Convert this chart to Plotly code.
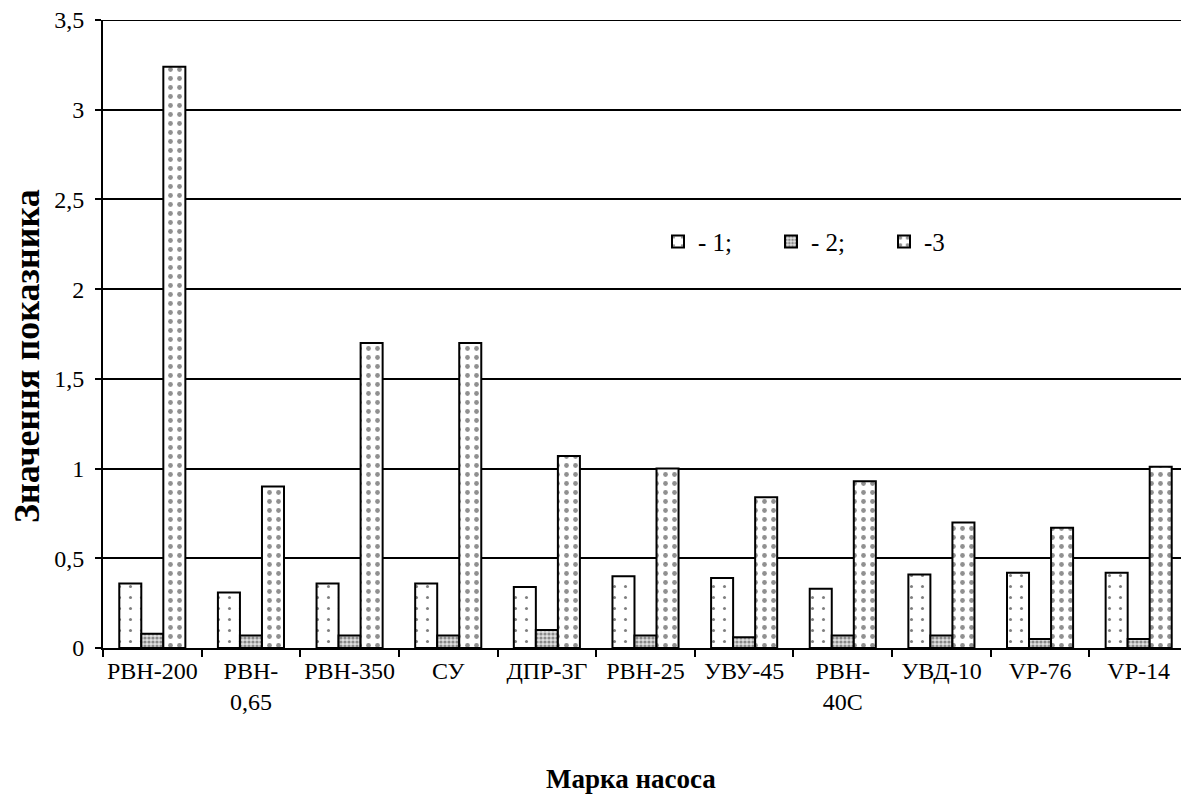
import plotly.graph_objects as go

categories = ["РВН-200", "РВН-<br>0,65", "РВН-350", "СУ", "ДПР-3Г", "РВН-25",
              "УВУ-45", "РВН-<br>40С", "УВД-10", "VP-76", "VP-14"]
series1 = [0.36, 0.31, 0.36, 0.36, 0.34, 0.40, 0.39, 0.33, 0.41, 0.42, 0.42]
series2 = [0.08, 0.07, 0.07, 0.07, 0.10, 0.07, 0.06, 0.07, 0.07, 0.05, 0.05]
series3 = [3.24, 0.90, 1.70, 1.70, 1.07, 1.00, 0.84, 0.93, 0.70, 0.67, 1.01]
names = ["- 1;", "- 2;", "-3"]
y_ticks = [0, 0.5, 1, 1.5, 2, 2.5, 3, 3.5]

FONT = "Liberation Serif"

fig = go.Figure()
fig.add_trace(go.Bar(
    x=categories, y=series1, name=names[0],
    marker=dict(color="white", line=dict(color="black", width=2),
                pattern=dict(shape=".", size=11, solidity=0.06, fgcolor="black", bgcolor="white")),
))
fig.add_trace(go.Bar(
    x=categories, y=series2, name=names[1],
    marker=dict(color="white", line=dict(color="black", width=2),
                pattern=dict(shape=".", size=4, solidity=0.5, fgcolor="#333333", bgcolor="#e0e0e0")),
))
fig.add_trace(go.Bar(
    x=categories, y=series3, name=names[2],
    marker=dict(color="white", line=dict(color="black", width=2),
                pattern=dict(shape=".", size=9, solidity=0.22, fgcolor="#222222", bgcolor="white")),
))

fig.update_layout(
    width=1189, height=796,
    paper_bgcolor="white", plot_bgcolor="white",
    margin=dict(l=95, r=9, t=12, b=156, autoexpand=False),
    barmode="group", bargap=0.33, bargroupgap=0,
    separators=", ",
    font=dict(family=FONT, size=24, color="black"),
    legend=dict(orientation="h", x=0.5115, y=0.647, xanchor="left", yanchor="middle",
                entrywidth=68, entrywidthmode="pixels",
                font=dict(family=FONT, size=25, color="black"),
                bgcolor="rgba(0,0,0,0)"),
    showlegend=True,
)
fig.update_xaxes(
    showline=True, linecolor="black", linewidth=2,
    ticks="outside", ticklen=7, tickwidth=2, tickcolor="black",
    tickson="boundaries", showgrid=False, tickangle=0, automargin=False,
    tickfont=dict(family=FONT, size=24, color="black"),
)
fig.update_yaxes(
    range=[0, y_ticks[-1]], tickvals=y_ticks,
    showline=True, linecolor="black", linewidth=2,
    ticks="outside", ticklen=6, tickwidth=2, tickcolor="black",
    showgrid=True, gridcolor="black", gridwidth=2, zeroline=False,
    tickfont=dict(family=FONT, size=24, color="black"),
    ticklabelstandoff=6, ticklabeloverflow="allow", automargin=False,
)
# top gridline at the last tick value
fig.add_shape(type="line", xref="paper", x0=0, x1=1, yref="y", y0=y_ticks[-1], y1=y_ticks[-1],
              line=dict(color="black", width=2), layer="below")
fig.add_annotation(text="<b>Марка насоса</b>", xref="paper", yref="paper",
                   x=(631 - 103) / 1085, y=-(779 - 648) / 628, xanchor="center", yanchor="middle",
                   showarrow=False, font=dict(family=FONT, size=27, color="black"))
fig.add_annotation(text="<b>Значення показника</b>", xref="paper", yref="paper",
                   x=-(103 - 27) / 1085, y=(648 - 356) / 628, xanchor="center", yanchor="middle",
                   textangle=-90, showarrow=False, font=dict(family=FONT, size=36, color="black"))

fig.write_html("out.html")
